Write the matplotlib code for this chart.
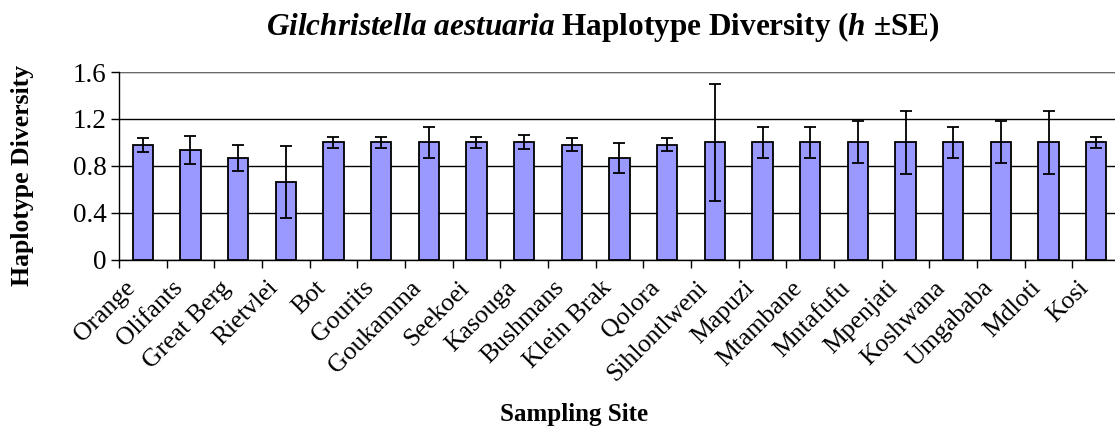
import numpy as np
import matplotlib.pyplot as plt
from matplotlib.transforms import ScaledTranslation

# Haplotype diversity per sampling site, with standard errors
sites = ['Orange', 'Olifants', 'Great Berg', 'Rietvlei', 'Bot', 'Gourits',
         'Goukamma', 'Seekoei', 'Kasouga', 'Bushmans', 'Klein Brak', 'Qolora',
         'Sihlontlweni', 'Mapuzi', 'Mtambane', 'Mntafufu', 'Mpenjati',
         'Koshwana', 'Umgababa', 'Mdloti', 'Kosi']
h = [0.978, 0.935, 0.867, 0.662, 1.0, 1.0,
     1.0, 1.0, 1.0, 0.978, 0.867, 0.978,
     1.0, 1.0, 1.0, 1.0, 1.0,
     1.0, 1.0, 1.0, 1.0]
se = [0.06, 0.12, 0.108, 0.31, 0.045, 0.045,
      0.13, 0.045, 0.06, 0.055, 0.13, 0.055,
      0.5, 0.13, 0.13, 0.18, 0.27,
      0.13, 0.18, 0.27, 0.045]
yticks = [0, 0.4, 0.8, 1.2, 1.6]
ytick_labels = ['0', '0.4', '0.8', '1.2', '1.6']

plt.rcParams['font.family'] = 'Liberation Serif'
plt.rcParams['mathtext.fontset'] = 'custom'
plt.rcParams['mathtext.rm'] = 'Liberation Serif:bold'
plt.rcParams['mathtext.it'] = 'Liberation Serif:italic:bold'
plt.rcParams['mathtext.bf'] = 'Liberation Serif:bold'

fig = plt.figure(figsize=(11.15, 4.3), dpi=100)
ax = fig.add_axes([0.1067, 0.3965, 0.8978, 0.436])

x = np.arange(len(sites))
ax.bar(x, h, width=0.43, color='#9999FF', edgecolor='black', linewidth=1.3, zorder=3)
ax.errorbar(x, h, yerr=se, fmt='none', ecolor='black', elinewidth=1.3,
            capsize=4.5, capthick=1.3, zorder=4)

ax.set_xlim(-0.5, len(sites) - 0.5)
ax.set_ylim(0, 1.6)
ax.set_yticks(yticks)
ax.set_yticklabels(ytick_labels, fontsize=19.5)
ax.yaxis.grid(True, color='black', linewidth=1.0, zorder=0)
ax.set_axisbelow(True)

# category ticks sit between bars, labels centred on bars
ax.set_xticks(np.arange(len(sites) + 1) - 0.5)
ax.set_xticklabels([])
ax.set_xticks(x, minor=True)
ax.set_xticklabels(sites, minor=True, rotation=45, ha='right', va='center',
                   rotation_mode='anchor', fontsize=18.5)
ax.tick_params(axis='x', which='minor', length=0, pad=18)
ax.tick_params(axis='x', which='major', length=6, width=1, color='black')
ax.tick_params(axis='y', length=6, width=1, pad=3)

# nudge the slanted labels a little to the left of the bar centres
shift = ScaledTranslation(-0.11, 0, fig.dpi_scale_trans)
for lab in ax.get_xticklabels(minor=True):
    lab.set_transform(lab.get_transform() + shift)

for side in ['top', 'right']:
    ax.spines[side].set_visible(False)
ax.spines['left'].set_linewidth(1.0)
ax.spines['bottom'].set_linewidth(1.0)
ax.axhline(1.6, color='#808080', linewidth=1.2, zorder=2)

fig.text(0.0206, 0.593, 'Haplotype Diversity', rotation=90, ha='center', va='center',
         fontsize=18.5, fontweight='bold')
fig.text(0.515, 0.022, 'Sampling Site', ha='center', va='baseline',
         fontsize=18, fontweight='bold')
fig.text(0.541, 0.918, r'$Gilchristella\ aestuaria$ Haplotype Diversity ($h$ ±SE)',
         ha='center', va='baseline', fontsize=22.5, fontweight='bold')

fig.savefig('out.png', dpi=100)
